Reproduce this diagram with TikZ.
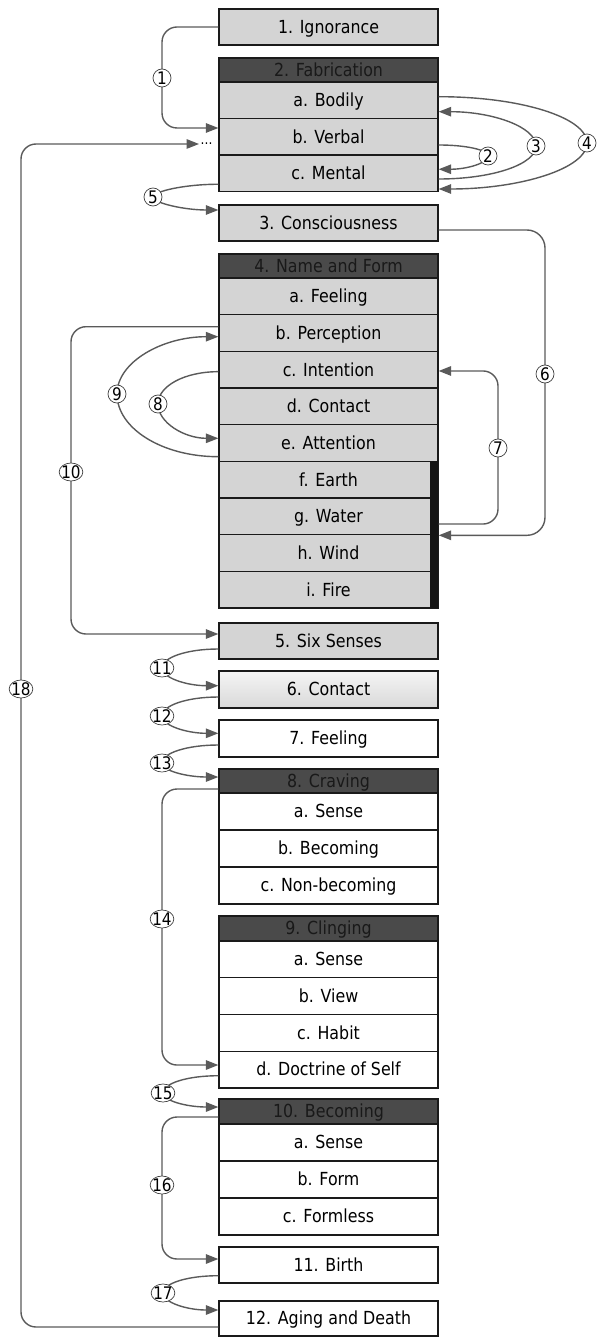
\documentclass[tikz,border=0pt]{standalone}
\usepackage{fontspec}
\setmainfont{DejaVu Sans}[FakeStretch=0.88]
\usetikzlibrary{shapes.geometric,arrows.meta,calc}
\definecolor{boxgray}{HTML}{D4D4D4}
\definecolor{headgray}{HTML}{4A4A4A}
\definecolor{conncol}{HTML}{5A5A5A}
\definecolor{edgecol}{HTML}{1A1A1A}
\begin{document}
\begin{tikzpicture}[x=1pt,y=-1pt,
  every node/.style={font=\fontsize{18pt}{20pt}\selectfont},
  box/.style={draw=edgecol, line width=1.3pt, minimum width=219pt, inner sep=0pt,
    text height=12.7pt, text depth=0pt, anchor=center},
  gbox/.style={box, fill=boxgray},
  wbox/.style={box, fill=white},
  hbox/.style={box, fill=headgray, text=black!90},
  conn/.style={draw=conncol, line width=1.4pt, rounded corners=15pt,
    -{Triangle[length=12.5pt,width=9.5pt]}},
  curv/.style={draw=conncol, line width=1.4pt, -{Triangle[length=12.5pt,width=9.5pt]}},
  lab/.style={ellipse, draw=black!75, line width=0.7pt, fill=white, inner xsep=-1.3pt,
    inner ysep=0pt, minimum width=18pt, minimum height=18pt, text height=12.3pt,
    text depth=0pt, font=\fontsize{17.3pt}{18pt}\selectfont},
]
\useasboundingbox (0,0) rectangle (598,1337);

% ---------- boxes ----------
\node[gbox, minimum height=36pt] (ign) at (328.5,27) {1. Ignorance};
\node[hbox, minimum height=24pt] (fabh) at (328.5,70) {2. Fabrication};
\node[gbox, minimum height=36.5pt] (bod) at (328.5,100.25) {a. Bodily};
\node[gbox, minimum height=36.5pt] (verb) at (328.5,136.75) {b. Verbal};
\node[gbox, minimum height=36.5pt] (ment) at (328.5,173.25) {c. Mental};
\node[gbox, minimum height=36pt] (cons) at (328.5,223) {3. Consciousness};

\node[hbox, minimum height=24pt] (nfh) at (328.5,266) {4. Name and Form};
\node[gbox, minimum height=36.67pt] (feel) at (328.5,296.33) {a. Feeling};
\node[gbox, minimum height=36.67pt] (perc) at (328.5,333) {b. Perception};
\node[gbox, minimum height=36.67pt] (int) at (328.5,369.67) {c. Intention};
\node[gbox, minimum height=36.67pt] (cont) at (328.5,406.33) {d. Contact};
\node[gbox, minimum height=36.67pt] (att) at (328.5,443) {e. Attention};
\node[gbox, minimum height=36.67pt] (earth) at (328.5,479.67) {f. Earth};
\node[gbox, minimum height=36.67pt] (water) at (328.5,516.33) {g. Water};
\node[gbox, minimum height=36.67pt] (wind) at (328.5,553) {h. Wind};
\node[gbox, minimum height=36.67pt] (fire) at (328.5,589.67) {i. Fire};
\fill[black!92] (430,461.33) rectangle (437.6,608);

\node[gbox, minimum height=36pt] (six) at (328.5,641) {5. Six Senses};
\node[box, minimum height=37pt, top color=black!4, bottom color=black!15] (conts) at (328.5,689.5) {6. Contact};
\node[wbox, minimum height=37pt] (feels) at (328.5,738.5) {7. Feeling};

\node[hbox, minimum height=24pt] (cravh) at (328.5,781) {8. Craving};
\node[wbox, minimum height=37pt] (csense) at (328.5,811.5) {a. Sense};
\node[wbox, minimum height=37pt] (cbec) at (328.5,848.5) {b. Becoming};
\node[wbox, minimum height=37pt] (cnon) at (328.5,885.5) {c. Non-becoming};

\node[hbox, minimum height=25pt] (clingh) at (328.5,928.5) {9. Clinging};
\node[wbox, minimum height=36.75pt] (lsense) at (328.5,959.375) {a. Sense};
\node[wbox, minimum height=36.75pt] (lview) at (328.5,996.125) {b. View};
\node[wbox, minimum height=36.75pt] (lhabit) at (328.5,1032.875) {c. Habit};
\node[wbox, minimum height=36.75pt] (ldoc) at (328.5,1069.625) {d. Doctrine of Self};

\node[hbox, minimum height=25pt] (becoh) at (328.5,1111.5) {10. Becoming};
\node[wbox, minimum height=37pt] (bsense) at (328.5,1142.5) {a. Sense};
\node[wbox, minimum height=37pt] (bform) at (328.5,1179.5) {b. Form};
\node[wbox, minimum height=37pt] (bfless) at (328.5,1216.5) {c. Formless};

\node[wbox, minimum height=36pt] (birth) at (328.5,1265) {11. Birth};
\node[wbox, minimum height=35pt] (aging) at (328.5,1318.5) {12. Aging and Death};

\node[font=\fontsize{14pt}{14pt}\selectfont, inner sep=0pt, anchor=west] (dots) at (200.5,144) {...};

% ---------- label positions ----------
\coordinate (p1) at (162,78);
\coordinate (p2) at (488,156);
\coordinate (p3) at (536,146);
\coordinate (p4) at (587,143);
\coordinate (p5) at (153,197);
\coordinate (p6) at (545,374);
\coordinate (p7) at (498,448);
\coordinate (p8) at (158,404);
\coordinate (p9) at (117,394);
\coordinate (p10) at (71,472);
\coordinate (p11) at (162,668);
\coordinate (p12) at (162,716);
\coordinate (p13) at (162,763);
\coordinate (p14) at (162,919);
\coordinate (p15) at (163,1093);
\coordinate (p16) at (162,1185);
\coordinate (p17) at (163,1293);
\coordinate (p18) at (21,689);

% ---------- connector end points ----------
\coordinate (s2) at ([yshift=-8.25pt]verb.east);
\coordinate (e2) at ([yshift=4pt]ment.east);
\coordinate (s3) at ([yshift=-5.75pt]ment.east);
\coordinate (e3) at ([yshift=-11.45pt]bod.east);
\coordinate (s4) at ([yshift=3.55pt]bod.east);
\coordinate (e4) at ([yshift=-15.75pt]ment.east);
\coordinate (s5) at ([yshift=-11pt]ment.west);
\coordinate (e5) at ([yshift=13pt]cons.west);
\coordinate (s8) at ([yshift=-2pt]int.west);
\coordinate (e8) at ([yshift=4.7pt]att.west);
\coordinate (s9) at ([yshift=-13.7pt]att.west);
\coordinate (e9) at ([yshift=-3.7pt]perc.west);
\coordinate (s11) at ([yshift=-8pt]six.west);
\coordinate (e11) at ([yshift=3.8pt]conts.west);
\coordinate (s12) at ([yshift=-7.5pt]conts.west);
\coordinate (e12) at ([yshift=5.2pt]feels.west);
\coordinate (s13) at ([yshift=-6.5pt]feels.west);
\coordinate (e13) at ([yshift=4pt]cravh.west);
\coordinate (s15) at ([yshift=-6.1pt]ldoc.west);
\coordinate (e15) at ([yshift=4.5pt]becoh.west);
\coordinate (s17) at ([yshift=-10.7pt]birth.west);
\coordinate (e17) at ([yshift=8.5pt]aging.west);

% ---------- elbow connectors ----------
\draw[conn] (ign.west) -| (p1) |- ([yshift=8.75pt]verb.west);
\draw[conn, rounded corners=18pt] ([yshift=-7pt]cons.east) -| (p6) |- (water.south east);
\draw[conn] ([yshift=-7.7pt]water.east) -| (p7) |- ([yshift=-1.3pt]int.east);
\draw[conn] ([yshift=6.3pt]perc.west) -| (p10) |- ([yshift=7pt]six.west);
\draw[conn] ([yshift=-8pt]cravh.west) -| (p14) |- ([yshift=4.6pt]ldoc.west);
\draw[conn] ([yshift=-5.5pt]becoh.west) -| (p16) |- ([yshift=6pt]birth.west);
\draw[conn] ([yshift=-8.5pt]aging.west) -| (p18) |- ([xshift=-1.5pt]dots.west);

% ---------- curved connectors ----------
\draw[curv] (s2) .. controls ($(s2)+(27.6,0)$) and ($(p2)+(0,-6.1)$) .. (p2)
  .. controls ($(p2)+(0,7.3)$) and ($(e2)+(27.6,0)$) .. (e2);
\draw[curv] (s3) .. controls ($(s3)+(54,0)$) and ($(p3)+(0,18.2)$) .. (p3)
  .. controls ($(p3)+(0,-19)$) and ($(e3)+(54,0)$) .. (e3);
\draw[curv] (s4) .. controls ($(s4)+(82,0)$) and ($(p4)+(0,-25.5)$) .. (p4)
  .. controls ($(p4)+(0,25.4)$) and ($(e4)+(82,0)$) .. (e4);
\draw[curv] (s5) .. controls ($(s5)+(-34,0)$) and ($(p5)+(0,-5.5)$) .. (p5)
  .. controls ($(p5)+(0,6)$) and ($(e5)+(-34,0)$) .. (e5);
\draw[curv] (s8) .. controls ($(s8)+(-33.7,0)$) and ($(p8)+(0,-18)$) .. (p8)
  .. controls ($(p8)+(0,18.8)$) and ($(e8)+(-33.7,0)$) .. (e8);
\draw[curv] (s9) .. controls ($(s9)+(-56.3,0)$) and ($(p9)+(0,34.4)$) .. (p9)
  .. controls ($(p9)+(0,-31.8)$) and ($(e9)+(-56.3,0)$) .. (e9);
\draw[curv] (s11) .. controls ($(s11)+(-31.5,0)$) and ($(p11)+(0,-10.5)$) .. (p11)
  .. controls ($(p11)+(0,9.8)$) and ($(e11)+(-31.5,0)$) .. (e11);
\draw[curv] (s12) .. controls ($(s12)+(-31.5,0)$) and ($(p12)+(0,-10.5)$) .. (p12)
  .. controls ($(p12)+(0,9.5)$) and ($(e12)+(-31.5,0)$) .. (e12);
\draw[curv] (s13) .. controls ($(s13)+(-31.5,0)$) and ($(p13)+(0,-9.9)$) .. (p13)
  .. controls ($(p13)+(0,7.7)$) and ($(e13)+(-31.5,0)$) .. (e13);
\draw[curv] (s15) .. controls ($(s15)+(-31.5,0)$) and ($(p15)+(0,-9.5)$) .. (p15)
  .. controls ($(p15)+(0,7.7)$) and ($(e15)+(-31.5,0)$) .. (e15);
\draw[curv] (s17) .. controls ($(s17)+(-31.5,0)$) and ($(p17)+(0,-9.5)$) .. (p17)
  .. controls ($(p17)+(0,9.4)$) and ($(e17)+(-31.5,0)$) .. (e17);

% ---------- labels ----------
\foreach \i in {1,...,18} { \node[lab] (l\i) at (p\i) {\i}; }
\end{tikzpicture}
\end{document}
